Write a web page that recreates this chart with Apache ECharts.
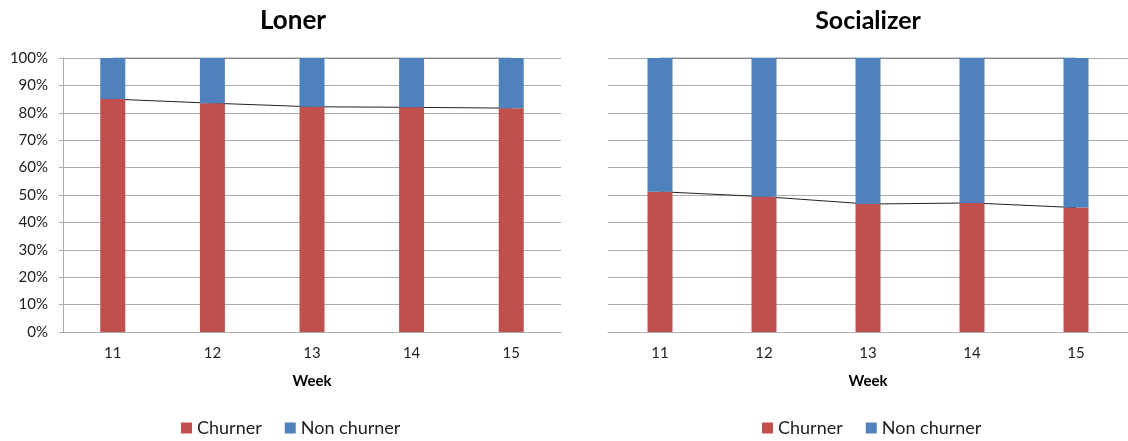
<!DOCTYPE html>
<html>
<head>
<meta charset="utf-8">
<script src="https://cdn.jsdelivr.net/npm/echarts@6/dist/echarts.min.js"></script>
<style>
html,body{margin:0;padding:0;background:#fff;}
#chart{width:1128px;height:441px;}
</style>
</head>
<body>
<div id="chart"></div>
<script>
const weeks = ['11', '12', '13', '14', '15'];
const titles = ['Loner', 'Socializer'];
const lonerChurner = [85.0, 83.5, 82.2, 82.0, 81.7];
const lonerNonChurner = [15.0, 16.5, 17.8, 18.0, 18.3];
const socialChurner = [51.2, 49.4, 46.7, 47.1, 45.4];
const socialNonChurner = [48.8, 50.6, 53.3, 52.9, 54.6];
const seriesNames = ['Churner', 'Non churner'];
const xAxisName = 'Week';

const RED = '#C0504D', BLUE = '#4F81BD';
const FONT = 'Lato, "Open Sans", sans-serif';
const GRIDC = '#ababab';

const chart = echarts.init(document.getElementById('chart'));

function total(a, b) { return a.map((v, i) => +(v + b[i]).toFixed(2)); }

const panels = [
  { churn: lonerChurner, non: lonerNonChurner },
  { churn: socialChurner, non: socialNonChurner }
];

const series = [];
panels.forEach((p, k) => {
  series.push({
    name: seriesNames[0], type: 'bar', stack: 's' + k, xAxisIndex: k, yAxisIndex: k,
    data: p.churn, barWidth: 25, itemStyle: { color: RED }, z: 3
  });
  series.push({
    name: seriesNames[1], type: 'bar', stack: 's' + k, xAxisIndex: k, yAxisIndex: k,
    data: p.non, barWidth: 25, itemStyle: { color: BLUE }, z: 3
  });
  series.push({
    name: 'line-churn-' + k, type: 'line', xAxisIndex: k, yAxisIndex: k,
    data: p.churn, symbol: 'none', lineStyle: { color: '#222', width: 1 }, z: 1, silent: true
  });
  series.push({
    name: 'line-total-' + k, type: 'line', xAxisIndex: k, yAxisIndex: k,
    data: total(p.churn, p.non), symbol: 'none', lineStyle: { color: '#555', width: 1.2 }, z: 1, silent: true
  });
});

const option = {
  animation: false,
  backgroundColor: '#fff',
  title: [
    { text: titles[0], left: 288, top: 3, textAlign: 'center',
      textStyle: { fontFamily: FONT, fontSize: 26, fontWeight: 'bold', color: '#000' } },
    { text: titles[1], left: 863, top: 3, textAlign: 'center',
      textStyle: { fontFamily: FONT, fontSize: 25, fontWeight: 'bold', color: '#000' } }
  ],
  legend: [
    { data: seriesNames, left: 176, top: 414, itemWidth: 11, itemHeight: 11, itemGap: 23,
      icon: 'rect', textStyle: { fontFamily: FONT, fontSize: 18, color: '#222' } },
    { data: seriesNames, left: 757, top: 414, itemWidth: 11, itemHeight: 11, itemGap: 23,
      icon: 'rect', textStyle: { fontFamily: FONT, fontSize: 18, color: '#222' } }
  ],
  grid: [
    { left: 63, top: 58, width: 498, height: 274 },
    { left: 608, top: 58, width: 522, height: 274 }
  ],
  xAxis: [0, 1].map(k => ({
    type: 'category', gridIndex: k, data: weeks,
    name: xAxisName, nameLocation: 'middle', nameGap: 42,
    nameTextStyle: { fontFamily: FONT, fontSize: 15, fontWeight: 'bold', color: '#000' },
    axisLine: { lineStyle: { color: GRIDC } },
    axisTick: { show: false },
    axisLabel: { fontFamily: FONT, fontSize: 15, color: '#222', margin: 14 }
  })),
  yAxis: [0, 1].map(k => ({
    type: 'value', gridIndex: k, min: 0, max: 100, interval: 10,
    axisLine: { show: k === 0, lineStyle: { color: GRIDC } },
    axisTick: { show: k === 0, length: 4, lineStyle: { color: GRIDC } },
    axisLabel: { show: k === 0, formatter: v => v + '%', fontFamily: FONT, fontSize: 15, color: '#222', margin: 15 },
    splitLine: { show: true, lineStyle: { color: GRIDC, width: 1 } }
  })),
  series: series
};
chart.setOption(option);
</script>
</body>
</html>
